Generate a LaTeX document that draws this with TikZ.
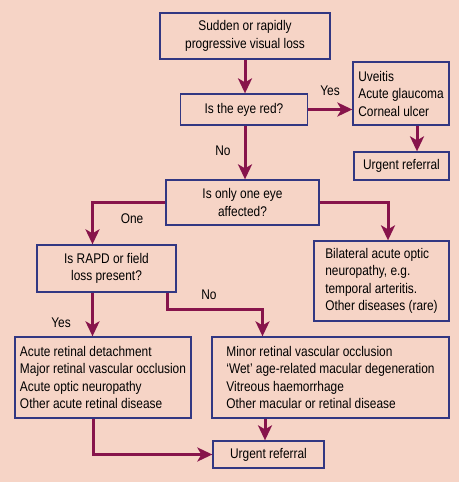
\documentclass[tikz,border=0pt]{standalone}
\usepackage{fontspec}
\setmainfont{Liberation Sans}[FakeStretch=0.85]
\usetikzlibrary{arrows.meta}
\definecolor{bgpink}{RGB}{246,212,198}
\definecolor{boxblue}{RGB}{50,55,130}
\definecolor{flowred}{RGB}{135,20,75}
\begin{document}
\begin{tikzpicture}[x=1pt,y=-1pt,
  box/.style={draw=boxblue,fill=bgpink,line width=1.3pt,inner sep=0pt,font=\fontsize{14}{17.5}\selectfont},
  flow/.style={draw=flowred,line width=3pt,-{Stealth[length=15pt,width=14pt,inset=4pt]}},
  lbl/.style={font=\fontsize{14}{17.5}\selectfont}]

\fill[bgpink] (0,0) rectangle (459,482);

\node[box,minimum width=170pt,minimum height=46pt,align=center] (start) at (245,36) {Sudden or rapidly\\progressive visual loss};
\node[box,minimum width=127pt,minimum height=31pt] (red) at (244,109.5) {Is the eye red?};
\node[box,minimum width=96pt,minimum height=63pt,align=left] (uveitis) at (401,93.5) {Uveitis\\Acute glaucoma\\Corneal ulcer};
\node[box,minimum width=95pt,minimum height=28pt] (urgentA) at (401.5,166) {Urgent referral};
\node[box,minimum width=153pt,minimum height=45pt,align=center] (oneeye) at (242.5,202.5) {Is only one eye\\affected?};
\node[box,minimum width=139pt,minimum height=47pt,align=center] (rapd) at (106.5,268.5) {Is RAPD or field\\loss present?};
\node[box,minimum width=135pt,minimum height=80pt,align=left] (bilat) at (381.5,281) {Bilateral acute optic\\neuropathy, e.g.\\temporal arteritis.\\Other diseases (rare)};
\node[box,minimum width=176pt,minimum height=81pt,align=left] (acute) at (103,377.5) {Acute retinal detachment\\Major retinal vascular occlusion\\Acute optic neuropathy\\Other acute retinal disease};
\node[box,minimum width=237pt,minimum height=81pt,align=left] (minor) at (330.5,377.5) {Minor retinal vascular occlusion\\`Wet' age-related macular degeneration\\Vitreous haemorrhage\\Other macular or retinal disease};
\node[box,minimum width=111pt,minimum height=27pt] (urgentB) at (268.5,454.5) {Urgent referral};

\draw[flow] (start.south) -- (start.south |- red.north);
\draw[flow] (start.south |- red.south) -- (start.south |- oneeye.north);
\draw[flow] (red.east) -- (red.east -| uveitis.west);
\draw[flow] ([xshift=16pt]uveitis.south) -- ([xshift=16pt]uveitis.south |- urgentA.north);
\draw[flow] (oneeye.west) -| ([xshift=-14pt]rapd.north);
\draw[flow] (oneeye.east) -| ([xshift=6.5pt]bilat.north);
\draw[flow] ([xshift=-14pt]rapd.south) -- ([xshift=-14pt]rapd.south |- acute.north);
\draw[flow] ([xshift=-9pt]rapd.south east) -- ++(0,17) -| ([xshift=-68pt]minor.north);
\draw[flow] ([xshift=-10pt]acute.south) |- (urgentB.west);
\draw[flow] ([xshift=-3.5pt]urgentB.north |- minor.south) -- ([xshift=-3.5pt]urgentB.north);

\node[lbl] (yesred) at (330,91) {Yes};
\node[lbl] (nored) at (223,151) {No};
\node[lbl] (oneA) at (132,219) {One};
\node[lbl] (yesrapd) at (61,323) {Yes};
\node[lbl] (norapd) at (209,295) {No};
\end{tikzpicture}
\end{document}
